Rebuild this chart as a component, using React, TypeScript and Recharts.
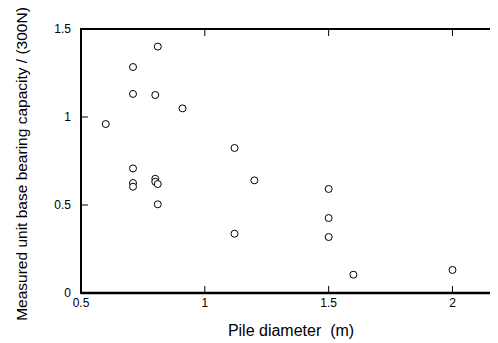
import React from 'react';
import { ScatterChart, Scatter, XAxis, YAxis, Customized } from 'recharts';

const pileDiameter = [0.6, 0.71, 0.71, 0.81, 0.8, 0.91, 1.12, 0.71, 0.71, 0.71, 0.8, 0.8, 0.81, 0.81, 1.12, 1.2, 1.5, 1.5, 1.5, 1.6, 2.0];
const bearingCapacity = [0.96, 1.284, 1.131, 1.4, 1.125, 1.049, 0.824, 0.708, 0.625, 0.604, 0.649, 0.632, 0.619, 0.504, 0.337, 0.64, 0.591, 0.426, 0.318, 0.104, 0.131];
const xTicks = [0.5, 1, 1.5, 2];
const yTicks = [0, 0.5, 1, 1.5];
const xDomain = [0.5, 2.2];
const yDomain = [0, 1.5];
const xTitle = 'Pile diameter  (m)';
const yTitle = 'Measured unit base bearing capacity / (300N)';

const points = pileDiameter.map((x, i) => ({ x, y: bearingCapacity[i] }));

const FONT = '"Liberation Sans", Arial, sans-serif';
const TICK = 7;
const CHART_W = 500;
const CHART_H = 335;
const MARGIN = { top: 21, right: 6, bottom: 10, left: 13 };
const YAXIS_W = 60;
const XAXIS_H = 40;
const PLOT_W = CHART_W - MARGIN.left - MARGIN.right - YAXIS_W;
const PLOT_H = CHART_H - MARGIN.top - MARGIN.bottom - XAXIS_H;

const BottomTick = (p: any) => {
  const top = p.y - PLOT_H;
  return (
    <g>
      <line x1={p.x} y1={p.y} x2={p.x} y2={p.y - TICK} stroke="#000" strokeWidth={1} />
      <line x1={p.x} y1={top} x2={p.x} y2={top + TICK} stroke="#000" strokeWidth={1} />
      <text x={p.x} y={p.y + 10} textAnchor="middle" dominantBaseline="central" fontSize={12} fontFamily={FONT} fill="#000">
        {p.payload.value}
      </text>
    </g>
  );
};

const LeftTick = (p: any) => {
  const right = p.x + PLOT_W;
  const v = p.payload.value;
  return (
    <g>
      <line x1={p.x} y1={p.y} x2={p.x + TICK} y2={p.y} stroke="#000" strokeWidth={1} />
      <line x1={right} y1={p.y} x2={right - TICK} y2={p.y} stroke="#000" strokeWidth={1} />
      <text x={p.x - 10} y={p.y} textAnchor="end" dominantBaseline="central" fontSize={12} fontFamily={FONT} fill="#000">
        {v}
      </text>
    </g>
  );
};

const Circle = (p: any) => (
  <circle cx={p.cx} cy={p.cy} r={3.5} fill="#fff" stroke="#000" strokeWidth={1} />
);

const Titles = () => (
  <g fontFamily={FONT} fill="#000">
    <rect
      x={MARGIN.left + YAXIS_W}
      y={MARGIN.top}
      width={PLOT_W}
      height={PLOT_H}
      fill="none"
      stroke="#000"
      strokeWidth={2}
    />
    <text x={283} y={327.5} textAnchor="middle" fontSize={16} style={{ whiteSpace: 'pre' }}>
      {xTitle}
    </text>
    <text
      x={0}
      y={0}
      textAnchor="middle"
      fontSize={15.5}
      transform="translate(18.5, 156) rotate(-90)"
    >
      {yTitle}
    </text>
  </g>
);

export default function App() {
  return (
    <div style={{ width: 490, height: CHART_H, overflow: 'hidden' }}>
      <ScatterChart width={CHART_W} height={CHART_H} margin={MARGIN}>
        <XAxis
          dataKey="x"
          type="number"
          domain={xDomain}
          ticks={xTicks}
          interval={0}
          height={XAXIS_H}
          tickSize={0}
          tickMargin={0}
          tickLine={false}
          axisLine={{ stroke: '#000', strokeWidth: 2.5 }}
          tick={BottomTick}
        />
        <YAxis
          dataKey="y"
          type="number"
          domain={yDomain}
          ticks={yTicks}
          interval={0}
          width={YAXIS_W}
          tickSize={0}
          tickMargin={0}
          tickLine={false}
          axisLine={{ stroke: '#000', strokeWidth: 2 }}
          tick={LeftTick}
        />
        <Scatter data={points} shape={Circle} isAnimationActive={false} />
        <Customized component={Titles} />
      </ScatterChart>
    </div>
  );
}
